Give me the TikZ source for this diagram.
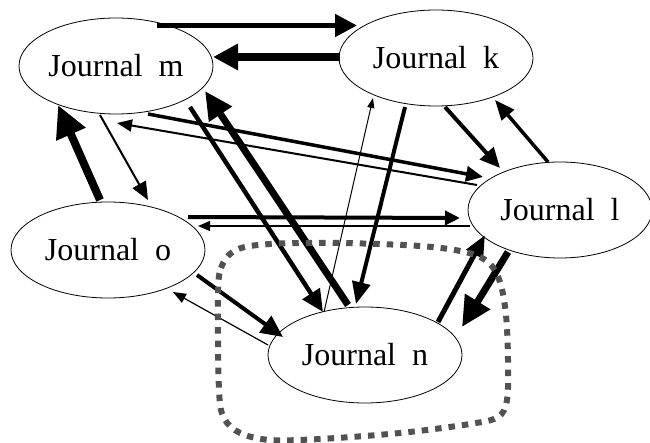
\documentclass[tikz,border=0pt]{standalone}
\usepackage{fontspec}
\setmainfont{Liberation Serif}
\usetikzlibrary{arrows.meta,shapes.geometric,calc}
\begin{document}
\begin{tikzpicture}[x=1pt,y=-1pt,
  journal/.style={draw=black, line width=0.8pt, ellipse, minimum width=194pt, minimum height=96pt, inner sep=0pt, font=\fontsize{32}{38}\selectfont},
  arw/.style n args={3}{draw=black, line width=#1pt, -{Triangle[length=#2pt,width=#3pt]}},
  grp/.style={draw=black!68, line width=6pt, dash pattern=on 6.5pt off 7pt}
]
\useasboundingbox (0,0) rectangle (650,443);
\node[journal] (m) at (116,66) {Journal\ \ m};
\node[journal] (k) at (436,58) {Journal\ \ k};
\node[journal, minimum width=184pt] (l) at (560,210) {Journal\ \ l};
\node[journal] (o) at (108,250) {Journal\ \ o};
\node[journal] (n) at (365,355) {Journal\ \ n};
% m <-> k
\draw[arw={5}{22}{22}] ($(m)+(41,-40.5)$) -- ($(k)+(-79,-32.5)$);
\draw[arw={8}{25}{25}] ($(k)+(-96,-1)$) -- ($(m)+(97,-9)$);
% o <-> m
\draw[arw={8}{32}{30}] ($(o)+(-8,-50)$) -- ($(m)+(-58,39)$);
\draw[arw={2}{18}{15}] ($(m)+(-16,49)$) -- ($(o)+(40,-50)$);
% m <-> l
\draw[arw={3.5}{17}{15}] ($(m)+(32,48)$) -- ($(l)+(-77,-33)$);
\draw[arw={2}{15}{12}] ($(l)+(-83,-25)$) -- ($(m)+(1,57)$);
% m <-> n
\draw[arw={4.5}{22}{20}] ($(m)+(74,41)$) -- ($(n)+(-42,-43)$);
\draw[arw={7}{28}{26}] ($(n)+(-17,-50)$) -- ($(m)+(89,25)$);
% k <-> n
\draw[arw={4}{22}{18}] ($(k)+(-31,49)$) -- ($(n)+(-9,-51)$);
\draw[arw={1}{10}{7}] ($(n)+(-41,-43)$) -- ($(k)+(-63,40)$);
% k <-> l
\draw[arw={4}{20}{18}] ($(k)+(9,49)$) -- ($(l)+(-60,-42)$);
\draw[arw={3.5}{20}{16}] ($(l)+(-12,-48)$) -- ($(k)+(59,42)$);
% o <-> l
\draw[arw={4}{15}{14}] ($(o)+(80,-33)$) -- ($(l)+(-100,8)$);
\draw[arw={1.2}{12}{10}] ($(l)+(-90,16)$) -- ($(o)+(90,-24)$);
% o <-> n
\draw[arw={4}{22}{20}] ($(o)+(89,25)$) -- ($(n)+(-82,-18)$);
\draw[arw={1.2}{13}{10}] ($(n)+(-97,-10)$) -- ($(o)+(65,42)$);
% n <-> l
\draw[arw={5}{22}{18}] ($(n)+(73,-33)$) -- ($(l)+(-75,25)$);
\draw[arw={7}{30}{28}] ($(l)+(-52,42)$) -- ($(n)+(97,-28)$);
% group outline
\draw[grp] plot[smooth cycle, tension=0.55] coordinates {
  (218,300) (221,268) (236,250) (270,244) (340,243) (420,246) (465,252)
  (488,262) (500,282) (506,315) (508,360) (507,400) (498,417) (470,424)
  (400,433) (320,439) (270,440) (240,433) (224,418) (219,390)};
\end{tikzpicture}
\end{document}
